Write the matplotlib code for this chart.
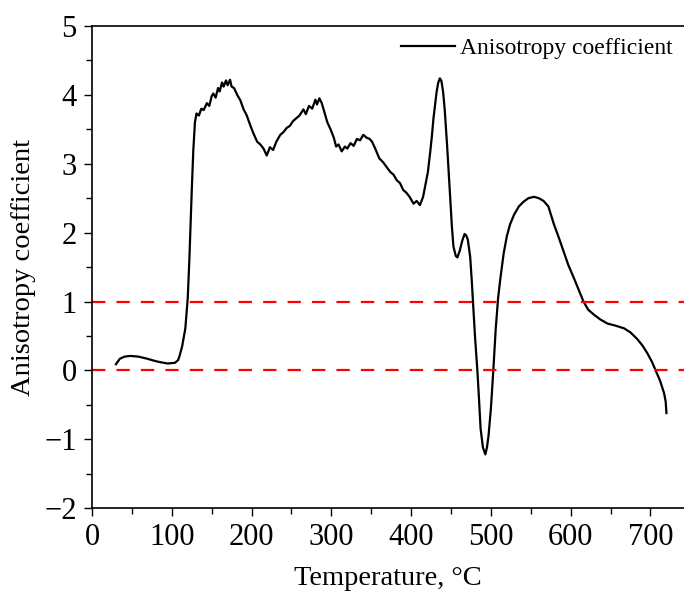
import matplotlib.pyplot as plt
from matplotlib.ticker import MultipleLocator

# --- data (rows of 10 points) ---
temperature = [30, 35, 41, 48, 58, 69, 78, 85, 95, 104,
               108, 110, 113, 117, 120, 122, 125, 127, 129, 131,
               134, 137, 140, 144, 147, 150, 152, 155, 158, 160,
               163, 165, 168, 170, 173, 175, 178, 182, 186, 190,
               194, 198, 202, 207, 211, 215, 219, 223, 227, 231,
               236, 240, 244, 248, 252, 256, 260, 265, 268, 272,
               276, 280, 282, 285, 288, 292, 295, 299, 303, 306,
               309, 313, 317, 320, 324, 328, 332, 336, 340, 344,
               348, 351, 355, 360, 365, 370, 374, 378, 382, 386,
               390, 394, 398, 403, 407, 411, 415, 418, 421, 424,
               426, 428, 430, 432, 434, 436, 438, 440, 442, 445,
               447, 449, 451, 453, 456, 458, 461, 464, 467, 469,
               471, 474, 476, 478, 480, 483, 485, 487, 490, 493,
               495, 497, 500, 503, 506, 509, 512, 516, 520, 524,
               529, 535, 541, 547, 554, 560, 566, 572, 579, 585,
               591, 597, 604, 610, 616, 622, 629, 637, 646, 656,
               667, 675, 683, 690, 696, 702, 708, 712, 715, 717,
               719, 720]
anisotropy = [0.09, 0.17, 0.20, 0.21, 0.20, 0.17, 0.14, 0.12, 0.10, 0.11,
              0.15, 0.22, 0.35, 0.61, 1.05, 1.60, 2.60, 3.20, 3.60, 3.73,
              3.70, 3.80, 3.78, 3.88, 3.84, 3.98, 4.02, 3.96, 4.10, 4.05,
              4.18, 4.12, 4.21, 4.14, 4.22, 4.12, 4.10, 4.00, 3.92, 3.79,
              3.70, 3.57, 3.45, 3.32, 3.28, 3.22, 3.12, 3.24, 3.20, 3.32,
              3.42, 3.46, 3.52, 3.55, 3.62, 3.66, 3.70, 3.79, 3.72, 3.84,
              3.80, 3.93, 3.86, 3.95, 3.88, 3.72, 3.60, 3.50, 3.38, 3.25,
              3.28, 3.18, 3.25, 3.22, 3.30, 3.26, 3.36, 3.34, 3.42, 3.38,
              3.36, 3.32, 3.22, 3.08, 3.02, 2.94, 2.88, 2.84, 2.76, 2.72,
              2.62, 2.58, 2.52, 2.42, 2.46, 2.40, 2.52, 2.70, 2.88, 3.18,
              3.40, 3.66, 3.86, 4.05, 4.18, 4.24, 4.20, 4.05, 3.80, 3.28,
              2.90, 2.50, 2.10, 1.80, 1.66, 1.64, 1.74, 1.88, 1.98, 1.96,
              1.90, 1.65, 1.30, 0.90, 0.50, 0.00, -0.40, -0.84, -1.12, -1.22,
              -1.12, -0.95, -0.55, 0.00, 0.60, 1.05, 1.35, 1.70, 1.95, 2.12,
              2.26, 2.38, 2.45, 2.50, 2.52, 2.50, 2.46, 2.38, 2.12, 1.93,
              1.73, 1.53, 1.34, 1.17, 1.00, 0.88, 0.81, 0.74, 0.68, 0.65,
              0.61, 0.55, 0.46, 0.36, 0.25, 0.12, -0.04, -0.15, -0.26, -0.33,
              -0.45, -0.62]
reference_levels = [1, 0]

plt.rcParams['font.family'] = ['Liberation Serif', 'DejaVu Serif']

fig = plt.figure(figsize=(6.84, 5.95), dpi=100)
ax = fig.add_axes([0.1345, 0.146, 0.8655, 0.8103])

ax.plot(temperature, anisotropy, color='black', lw=1.6, label='Anisotropy coefficient')
for level in reference_levels:
    ax.axhline(level, color='#ff0000', lw=1.6, dashes=(6, 5))

ax.set_xlim(0, 742)
ax.set_ylim(-2, 5)
ax.xaxis.set_major_locator(MultipleLocator(100))
ax.xaxis.set_minor_locator(MultipleLocator(50))
ax.yaxis.set_minor_locator(MultipleLocator(0.5))
ax.set_yticks(range(-2, 6))
ax.set_yticklabels(['\u22122', '\u22121', '0', '1', '2', '3', '4', '5'])
ax.tick_params(which='major', direction='out', length=6, width=1, labelsize=22, pad=5)
ax.tick_params(which='minor', direction='out', length=4, width=1)
ax.spines['right'].set_visible(False)
for side in ['left', 'bottom', 'top']:
    ax.spines[side].set_linewidth(1.2)

ax.set_xlabel('Temperature, °C', fontsize=20.5, labelpad=10)
ax.set_ylabel('Anisotropy coefficient', fontsize=20.5, labelpad=6)

ax.legend(loc='upper right', frameon=False, fontsize=17, handlelength=2.3,
          handletextpad=0.2, borderaxespad=0.1, bbox_to_anchor=(1.0, 1.0))

fig.savefig('out.png', dpi=100)
